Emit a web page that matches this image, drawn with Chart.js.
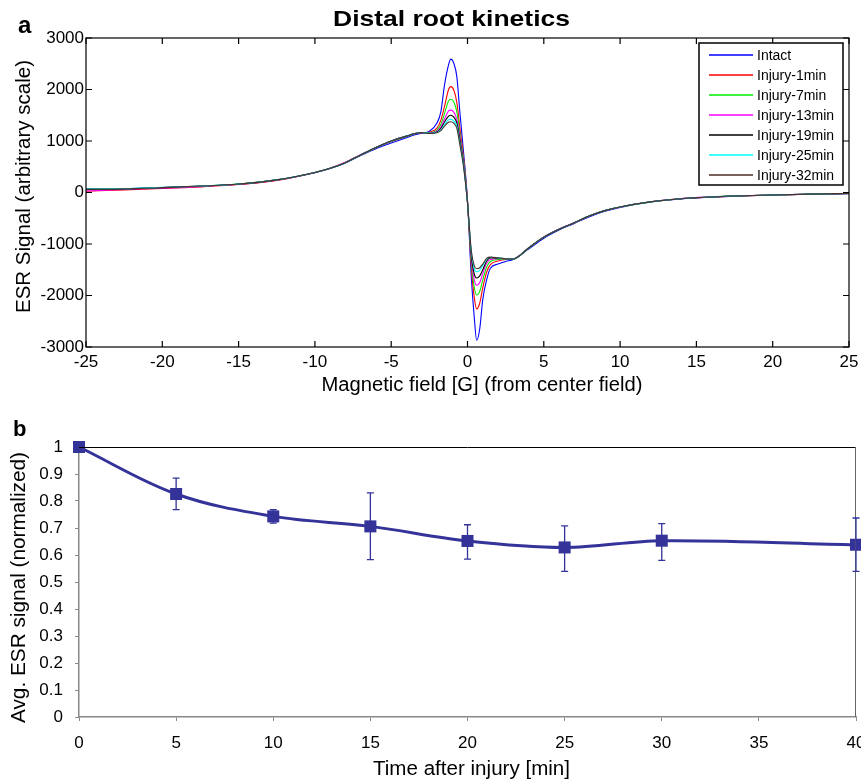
<!DOCTYPE html>
<html>
<head>
<meta charset="utf-8">
<script src="https://cdn.jsdelivr.net/npm/chart.js"></script>
<style>
  body { margin: 0; background: #fff; }
  #wrapA { position: absolute; left: 0; top: 0; width: 861px; height: 400px; }
  #wrapB { position: absolute; left: 0; top: 400px; width: 861px; height: 381px; }
</style>
</head>
<body>
<div id="wrapA"><canvas id="spectrumChart" width="861" height="400"></canvas></div>
<div id="wrapB"><canvas id="kineticsChart" width="861" height="381"></canvas></div>
<script>
// ---- panel a: ESR spectra (field offset in G, signal in arbitrary units) ----
const fieldG = [-25, -22.5, -20, -17.5, -15, -12.5, -10, -9, -8, -7, -6, -5, -4, -3.5, -3, -2.5, -2, -1.75, -1.5, -1.25,
  -1.1, -0.9, -0.7, -0.5, -0.25, 0, 0.25, 0.45, 0.6, 0.8, 1, 1.25, 1.5, 2, 2.5, 3, 4, 5, 6, 7,
  8, 9, 10, 12, 14, 16, 18, 20, 22.5, 25];

const intact = [70, 75, 95, 120, 160, 240, 385, 465, 575, 720, 850, 960, 1065, 1115, 1150, 1190, 1350, 1560, 2100, 2470,
  2590, 2510, 2250, 1560, 750, -150, -1650, -2450, -2870, -2650, -2080, -1700, -1470, -1390, -1340, -1300, -1100, -890, -730, -600,
  -470, -365, -290, -185, -125, -90, -65, -50, -35, -25];
const injury1 = [25, 50, 80, 110, 155, 235, 390, 470, 585, 730, 870, 990, 1090, 1135, 1160, 1170, 1250, 1400, 1680, 1990,
  2055, 1990, 1750, 1250, 650, -170, -1450, -2050, -2260, -2150, -1850, -1550, -1400, -1330, -1300, -1290, -1080, -870, -715, -590,
  -455, -355, -280, -180, -120, -88, -66, -50, -34, -18];
const injury7 = [55, 65, 95, 120, 165, 245, 390, 470, 580, 730, 870, 995, 1090, 1135, 1165, 1160, 1210, 1320, 1540, 1770,
  1810, 1760, 1570, 1150, 600, -180, -1350, -1850, -1990, -1920, -1700, -1450, -1340, -1300, -1290, -1290, -1080, -865, -712, -588,
  -452, -352, -282, -182, -118, -85, -64, -48, -33, -20];
const injury13 = [30, 60, 85, 115, 160, 240, 390, 470, 585, 735, 875, 1000, 1095, 1140, 1165, 1155, 1190, 1270, 1430, 1580,
  1600, 1560, 1420, 1080, 560, -190, -1280, -1700, -1800, -1750, -1580, -1380, -1300, -1285, -1285, -1290, -1075, -862, -708, -585,
  -450, -350, -280, -180, -118, -86, -64, -48, -32, -18];
const injury19 = [60, 70, 95, 125, 165, 245, 390, 470, 580, 730, 875, 1000, 1095, 1140, 1165, 1150, 1175, 1240, 1370, 1480,
  1500, 1465, 1350, 1020, 530, -200, -1220, -1590, -1660, -1620, -1500, -1330, -1270, -1275, -1285, -1290, -1078, -866, -712, -588,
  -452, -352, -282, -180, -120, -86, -64, -48, -32, -18];
const injury25 = [75, 75, 100, 125, 165, 245, 390, 470, 580, 730, 875, 1000, 1095, 1140, 1165, 1150, 1165, 1215, 1320, 1410,
  1420, 1390, 1290, 960, 500, -200, -1160, -1480, -1540, -1510, -1420, -1290, -1260, -1270, -1285, -1290, -1078, -866, -712, -588,
  -452, -352, -282, -182, -120, -86, -64, -48, -32, -18];
const injury32 = [65, 70, 95, 125, 165, 245, 390, 470, 580, 730, 875, 1000, 1095, 1140, 1165, 1145, 1160, 1200, 1290, 1365,
  1375, 1345, 1250, 930, 480, -200, -1130, -1430, -1480, -1460, -1390, -1280, -1255, -1270, -1285, -1290, -1078, -866, -712, -588,
  -452, -352, -282, -182, -120, -86, -64, -48, -32, -18];

const seriesLabels = ['Intact', 'Injury-1min', 'Injury-7min', 'Injury-13min', 'Injury-19min', 'Injury-25min', 'Injury-32min'];
const seriesValues = [intact, injury1, injury7, injury13, injury19, injury25, injury32];
const seriesColors = ['#0000ff', '#ff0000', '#00ee00', '#ff00ff', '#000000', '#00ffff', '#4a2e28'];

// ---- panel b: normalized average signal vs time ----
const timeMin = [0, 5, 10, 15, 20, 25, 30, 40];
const avgSignal = [1.0, 0.826, 0.743, 0.706, 0.652, 0.628, 0.653, 0.638];
const errHigh = [1.0, 0.885, 0.768, 0.83, 0.712, 0.708, 0.716, 0.737];
const errLow = [1.0, 0.768, 0.718, 0.583, 0.585, 0.539, 0.58, 0.539];

const FONT = "'Liberation Sans', Arial, Helvetica, sans-serif";
Chart.defaults.font.family = FONT;
Chart.defaults.color = '#000';

// draws text squeezed/stretched to a target width (the source figure is a bit wide)
function fitText(ctx, text, x, y, font, width, angle) {
  ctx.save();
  ctx.font = font;
  const w = ctx.measureText(text).width;
  ctx.translate(x, y);
  if (angle) ctx.rotate(angle);
  ctx.scale(width ? width / w : 1, 1);
  ctx.textAlign = 'center';
  ctx.textBaseline = 'alphabetic';
  ctx.fillStyle = '#000';
  ctx.fillText(text, 0, 0);
  ctx.restore();
}

// keep the plot box where the figure has it, labels may hang over the edge
function noLabelPadding(s) {
  s.paddingLeft = 0;
  s.paddingRight = 0;
}

// matlab-like frame: closed box with ticks pointing inwards, legend inside
const matlabFrame = {
  id: 'matlabFrame',
  afterDraw(chart) {
    const ctx = chart.ctx;
    const a = chart.chartArea;
    const xs = chart.scales.x, ys = chart.scales.y;
    ctx.save();
    ctx.strokeStyle = '#000';
    ctx.lineWidth = 1.2;
    ctx.strokeRect(a.left, a.top, a.right - a.left, a.bottom - a.top);
    ctx.beginPath();
    xs.ticks.forEach(t => {
      const px = xs.getPixelForValue(t.value);
      ctx.moveTo(px, a.bottom); ctx.lineTo(px, a.bottom - 6);
      ctx.moveTo(px, a.top); ctx.lineTo(px, a.top + 6);
    });
    ys.ticks.forEach(t => {
      const py = ys.getPixelForValue(t.value);
      ctx.moveTo(a.left, py); ctx.lineTo(a.left + 6, py);
      ctx.moveTo(a.right, py); ctx.lineTo(a.right - 6, py);
    });
    ctx.stroke();

    // legend
    const lx = 699, ly = 43, lw = 144, lh = 142;
    ctx.fillStyle = '#fff';
    ctx.fillRect(lx, ly, lw, lh);
    ctx.lineWidth = 1.5;
    ctx.strokeRect(lx, ly, lw, lh);
    ctx.font = '14px ' + FONT;
    ctx.textBaseline = 'middle';
    ctx.textAlign = 'left';
    seriesLabels.forEach((lab, i) => {
      const yy = 55 + i * 20;
      ctx.strokeStyle = seriesColors[i];
      ctx.lineWidth = 1.5;
      ctx.beginPath(); ctx.moveTo(709, yy); ctx.lineTo(753, yy); ctx.stroke();
      ctx.fillStyle = '#000';
      ctx.fillText(lab, 757, yy + 1);
    });

    // titles
    fitText(ctx, 'Distal root kinetics', 451.5, 26, 'bold 22px ' + FONT, 237);
    ctx.font = 'bold 24px ' + FONT;
    ctx.textAlign = 'left';
    ctx.textBaseline = 'alphabetic';
    ctx.fillStyle = '#000';
    ctx.fillText('a', 18, 33);
    fitText(ctx, 'Magnetic field [G] (from center field)', 482, 391, '20px ' + FONT, 321);
    fitText(ctx, 'ESR Signal (arbitrary scale)', 30, 186.5, '20px ' + FONT, 253, -Math.PI / 2);
    ctx.restore();
  }
};

new Chart(document.getElementById('spectrumChart'), {
  type: 'line',
  data: {
    datasets: seriesValues.map((vals, i) => ({
      label: seriesLabels[i],
      data: fieldG.map((g, k) => ({ x: g, y: vals[k] })),
      borderColor: seriesColors[i],
      borderWidth: 1.1,
      pointRadius: 0,
      cubicInterpolationMode: 'monotone',
      order: seriesValues.length - 1 - i
    }))
  },
  options: {
    responsive: false,
    animation: false,
    layout: { autoPadding: false, padding: { left: 0, right: 12, top: 38, bottom: 0 } },
    plugins: { legend: { display: false }, tooltip: { enabled: false } },
    scales: {
      x: {
        type: 'linear', min: -25, max: 25,
        grid: { display: false, drawTicks: false },
        border: { display: false },
        ticks: { stepSize: 5, padding: 5, maxRotation: 0, font: { size: 17 }, color: '#000', callback: v => String(v) },
        afterFit(s) { s.height = 53; noLabelPadding(s); }
      },
      y: {
        min: -3000, max: 3000,
        grid: { display: false, drawTicks: false },
        border: { display: false },
        ticks: { stepSize: 1000, padding: 2, font: { size: 17 }, color: '#000', callback: v => String(v) },
        afterFit(s) { s.width = 86; s.paddingTop = 0; s.paddingBottom = 0; }
      }
    }
  },
  plugins: [matlabFrame]
});

// error bars, closing frame and labels for panel b
const kineticsExtras = {
  id: 'kineticsExtras',
  afterDatasetsDraw(chart) {
    const ctx = chart.ctx;
    const xs = chart.scales.x, ys = chart.scales.y;
    const a = chart.chartArea;
    ctx.save();
    ctx.strokeStyle = '#000';
    ctx.lineWidth = 1;
    ctx.beginPath(); ctx.moveTo(a.left, a.top + 0.5); ctx.lineTo(a.right, a.top + 0.5); ctx.stroke();
    ctx.strokeStyle = '#666';
    ctx.beginPath(); ctx.moveTo(a.right - 0.5, a.top); ctx.lineTo(a.right - 0.5, a.bottom); ctx.stroke();

    ctx.strokeStyle = '#333399';
    ctx.lineWidth = 1.3;
    timeMin.forEach((t, i) => {
      if (errHigh[i] === errLow[i]) return;
      const px = xs.getPixelForValue(t);
      const y1 = ys.getPixelForValue(errHigh[i]);
      const y2 = ys.getPixelForValue(errLow[i]);
      ctx.beginPath();
      ctx.moveTo(px, y1); ctx.lineTo(px, y2);
      ctx.moveTo(px - 3.5, y1); ctx.lineTo(px + 3.5, y1);
      ctx.moveTo(px - 3.5, y2); ctx.lineTo(px + 3.5, y2);
      ctx.stroke();
    });

    fitText(ctx, 'Time after injury [min]', 471.5, 375, '20px ' + FONT, 197);
    fitText(ctx, 'Avg. ESR signal (normalized)', 25, 187.5, '20px ' + FONT, 271, -Math.PI / 2);
    ctx.font = 'bold 22px ' + FONT;
    ctx.textAlign = 'left';
    ctx.textBaseline = 'alphabetic';
    ctx.fillStyle = '#000';
    ctx.fillText('b', 13, 36);
    ctx.restore();
  }
};

new Chart(document.getElementById('kineticsChart'), {
  type: 'line',
  data: {
    datasets: [{
      label: 'Avg. ESR signal',
      data: timeMin.map((t, i) => ({ x: t, y: avgSignal[i] })),
      borderColor: '#333399',
      borderWidth: 3,
      tension: 0.35,
      pointStyle: 'rect',
      pointRadius: 8.5,
      pointBackgroundColor: '#333399',
      pointBorderColor: '#333399',
      pointBorderWidth: 0,
      clip: false
    }]
  },
  options: {
    responsive: false,
    animation: false,
    layout: { autoPadding: false, padding: { left: 0, right: 5, top: 47, bottom: 0 } },
    plugins: { legend: { display: false }, tooltip: { enabled: false } },
    scales: {
      x: {
        type: 'linear', min: 0, max: 40,
        grid: { display: true, drawOnChartArea: false, drawTicks: true, tickLength: 4, color: '#888' },
        border: { display: true, color: '#888', width: 1.5 },
        ticks: { stepSize: 5, padding: 12, maxRotation: 0, font: { size: 17 }, color: '#000' },
        afterFit(s) { s.height = 64; noLabelPadding(s); }
      },
      y: {
        min: 0, max: 1,
        grid: { display: true, drawOnChartArea: false, drawTicks: true, tickLength: 4, color: '#888' },
        border: { display: true, color: '#888', width: 1.5 },
        ticks: { stepSize: 0.1, padding: 12, font: { size: 17 }, color: '#000', callback: v => String(+v.toFixed(1)) },
        afterFit(s) { s.width = 79; s.paddingTop = 0; s.paddingBottom = 0; }
      }
    }
  },
  plugins: [kineticsExtras]
});
</script>
</body>
</html>
